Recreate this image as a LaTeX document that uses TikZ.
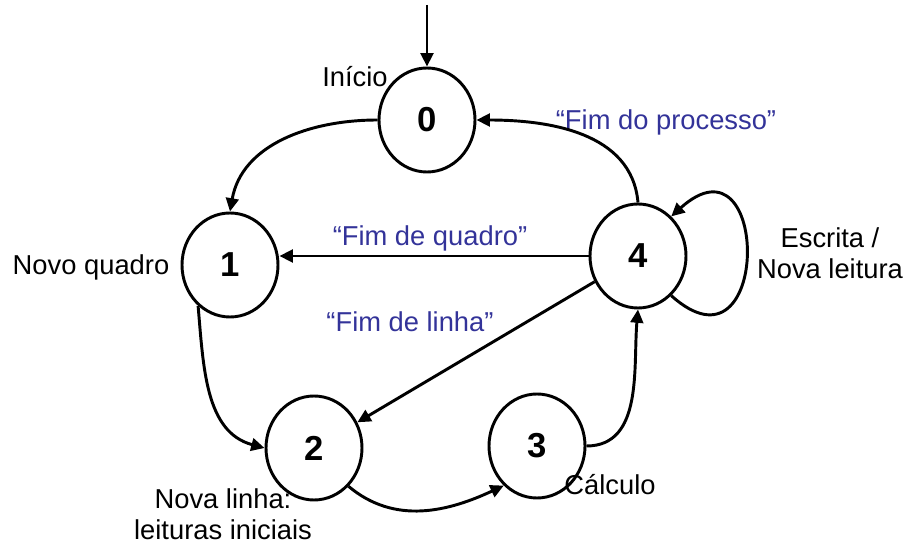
\documentclass[tikz,border=0pt]{standalone}
\usepackage{fontspec}
\setmainfont{Liberation Sans}
\usepackage{xcolor}
\usepackage{tikz}
\usetikzlibrary{arrows.meta, shapes.geometric, calc}
\definecolor{fimblue}{RGB}{51,51,153}
\tikzset{
  stnode/.style  = {ellipse, draw, line width=2.2pt, inner sep=0pt,
                    minimum width=72pt, minimum height=78pt,
                    font=\fontsize{26}{30}\selectfont\bfseries},
  lbl/.style     = {font=\fontsize{20.5}{23}\selectfont, align=center, inner sep=0pt},
  bluelbl/.style = {lbl, text=fimblue},
  arr/.style     = {-{Triangle[length=10pt, width=9.5pt]}, line width=2.2pt},
}

\begin{document}
\begin{tikzpicture}[x=0.75pt, y=0.75pt]
  \useasboundingbox (0,0) rectangle (904,-545);

  % estados
  \node[stnode] (s0) at (427,-120) {0};
  \node[stnode] (s1) at (230,-265) {1};
  \node[stnode] (s4) at (638,-256) {4};
  \node[stnode] (s2) at (314,-448) {2};
  \node[stnode] (s3) at (537,-446) {3};

  % rotulos
  \node[lbl] (linicio) at (355,-77)  {Início};
  \node[lbl] (lnovo)   at (91,-267)  {Novo quadro};
  \node[lbl] (lescr)   at (830,-253) {Escrita /\\Nova leitura};
  \node[lbl] (llinha)  at (223,-514) {Nova linha:\\leituras iniciais};
  \node[lbl] (lcalc)   at (610,-485) {Cálculo};
  \node[bluelbl] (lproc)   at (666,-122) {“Fim do processo”};
  \node[bluelbl] (lquadro) at (430,-238) {“Fim de quadro”};
  \node[bluelbl] (llin)    at (410,-322) {“Fim de linha”};

  % transicoes
  \coordinate (start) at (427,-5);
  \draw[arr] (start) -- (s0);
  \draw[arr] (s0.west) to[out=180, in=80] (s1.north);
  \draw[arr] (s4.north) to[out=95, in=0] (s0.east);
  \draw[arr] (s4.west) -- (s4.west -| s1.east);
  \draw[arr] (s4) -- (s2);
  \draw[arr] (s1.232) to[out=-85, in=165] (s2.west);
  \draw[arr] (s2.-48) to[out=-40, in=205] (s3.230);
  \draw[arr] (s3.east) to[out=0, in=-95] (s4.south);
  \draw[arr] (s4.-50) .. controls +(100,-90) and +(100,90) .. (s4.50);
\end{tikzpicture}
\end{document}
